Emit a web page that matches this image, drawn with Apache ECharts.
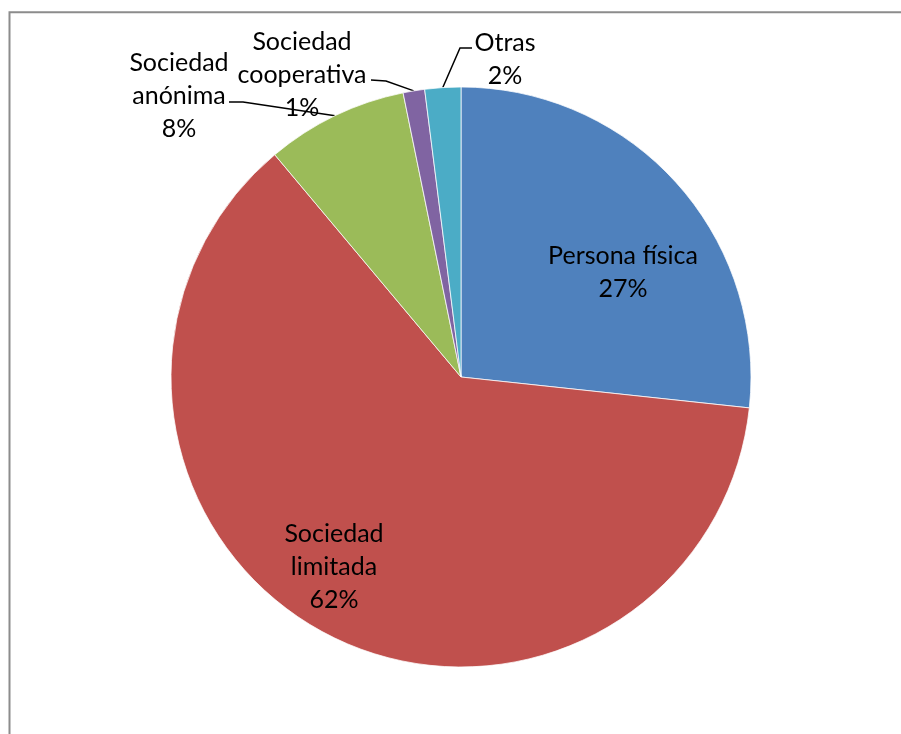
<!DOCTYPE html>
<html>
<head>
<meta charset="utf-8">
<script src="https://cdn.jsdelivr.net/npm/echarts@6/dist/echarts.min.js"></script>
<style>
  html, body { margin: 0; padding: 0; background: #fff; }
  #chart { width: 901px; height: 734px; }
</style>
</head>
<body>
<div id="chart"></div>
<script>
// Forma jurídica de las empresas (porcentaje)
const categories = ['Persona física', 'Sociedad limitada', 'Sociedad anónima', 'Sociedad cooperativa', 'Otras'];
const shares = [26.7, 62.2, 7.9, 1.2, 2.0];
const colors = ['#4F81BD', '#C0504D', '#9BBB59', '#8064A2', '#4BACC6'];

// Label placement: inside labels for large slices, callouts for the small ones
const labelInside = [true, true, false, false, false];
const labelCenter = [[623, 272], [334, 567], [179, 96], [302, 75], [505, 59]];
// callout: [bend point, end point] of the leader line (null for inside labels)
const leader = [null, null, [[243, 102], [229, 102]], [[386, 81], [371, 80]], [[460, 48], [472, 48]]];

const chart = echarts.init(document.getElementById('chart'));

const data = categories.map((name, i) => ({
  name: name,
  value: shares[i],
  itemStyle: { color: colors[i] },
  label: { position: labelInside[i] ? 'inside' : 'outside' },
  labelLine: { show: !labelInside[i] }
}));

chart.setOption({
  animation: false,
  graphic: [{
    // chart-area frame (left and top edges; the rest runs off the page)
    type: 'polyline',
    shape: { points: [[9.5, 1000], [9.5, 12.3], [1000, 12.3]] },
    style: { fill: null, stroke: '#8c8c8c', lineWidth: 2 },
    silent: true
  }],
  series: [{
    type: 'pie',
    center: [461, 377],
    radius: 290,
    startAngle: 90,
    clockwise: true,
    avoidLabelOverlap: false,
    data: data,
    itemStyle: { borderColor: '#ffffff', borderWidth: 0.75 },
    label: {
      color: '#000000',
      fontFamily: 'Lato',
      fontSize: 25,
      lineHeight: 33,
      align: 'center',
      formatter: p => {
        const name = p.name === 'Persona física' ? p.name : p.name.replace('Sociedad ', 'Sociedad\n');
        return name + '\n' + Math.round(p.percent) + '%';
      }
    },
    labelLine: {
      lineStyle: { color: '#000000', width: 1.5 }
    },
    labelLayout: params => {
      const i = params.dataIndex;
      const c = labelCenter[i];
      const out = { x: c[0], y: c[1], align: 'center', verticalAlign: 'middle' };
      if (leader[i] && params.labelLinePoints) {
        out.labelLinePoints = [params.labelLinePoints[0], leader[i][0], leader[i][1]];
      }
      return out;
    }
  }]
});
</script>
</body>
</html>
